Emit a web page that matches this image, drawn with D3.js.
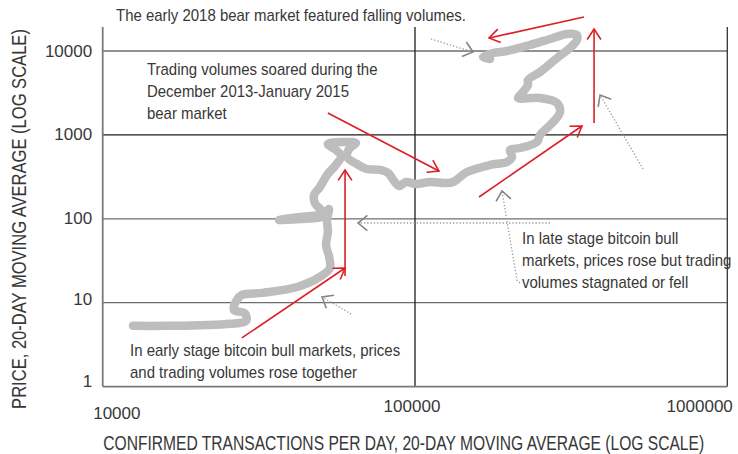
<!DOCTYPE html>
<html>
<head>
<meta charset="utf-8">
<script src="https://cdn.jsdelivr.net/npm/d3@7"></script>
<style>
	body { margin: 0; background: #fff; }
	text { font-family: 'Liberation Sans', Arial, sans-serif; fill: #383838; }
</style>
</head>
<body>
<div id="wrapper"></div>
<script>
// confirmed transactions per day (20-day MA) and price (20-day MA), in time order
const transactions = [12500, 15800, 20500, 25600, 28800, 28500, 26300, 26900, 27900, 32600,
	41900, 49600, 53400, 53000, 51900, 52600, 52300, 53000, 51100, 42800,
	36700, 42800, 50700, 47800, 47500, 49600, 52300, 55800, 58000, 55800,
	52600, 58800, 64700, 61500, 60600, 65200, 70200, 77300, 82000, 85700,
	88900, 93600, 100700, 111700, 124800, 132400, 146700, 173900, 197100, 204500,
	201500, 216900, 245900, 251300, 264700, 280800, 291300, 285000, 251300, 213700,
	220100, 230000, 230000, 251300, 285000, 313500, 330100, 330100, 306700, 270600,
	233400, 197100, 177700, 165100, 173900];
const prices = [5.3, 5.3, 5.4, 5.6, 6.1, 7.5, 8.2, 10.8, 12.4, 13.1,
	15.4, 20.3, 25.9, 36, 48.7, 69.6, 96.7, 131, 108, 99.4,
	96.7, 105, 117, 154, 192, 239, 333, 438, 560, 661,
	779, 823, 801, 679, 545, 450, 392, 382, 352, 282,
	246, 275, 260, 275, 267, 275, 361, 438, 475, 545,
	661, 698, 823, 997, 1208, 1505, 1875, 2400, 2754, 2754,
	3158, 3934, 4511, 5620, 8253, 10860, 13525, 15510, 15945, 13900,
	11790, 10000, 9467, 8483, 8028];

const yTicks = [1, 10, 100, 1000, 10000];
const yTickLabels = ['1', '10', '100', '1000', '10000'];
const xTicks = [10000, 100000, 1000000];
const xTickLabels = ['10000', '100000', '1000000'];
const yMax = 19300;

const xTitle = 'CONFIRMED TRANSACTIONS PER DAY, 20-DAY MOVING AVERAGE (LOG SCALE)';
const yTitle = 'PRICE, 20-DAY MOVING AVERAGE (LOG SCALE)';

// annotations, in data units: [tx, price]
const redArrows = [
	[[52600, 1824], [119300, 371]],
	[[347600, 25430], [172600, 14280]],
	[[374400, 1386], [374400, 18290]],
	[[160300, 182], [342500, 1277]],
	[[59700, 20.8], [59700, 382]],
	[[27900, 3.8], [59700, 25.9]],
];
const greyArrows = [
	[[112500, 13900], [153400, 9730]],
	[[537300, 392], [391300, 2990]],
	[[216900, 17.2], [212100, 18.6], [189900, 214.5]],
	[[270600, 89.1], [65700, 89.1]],
	[[62400, 7.33], [50400, 11.7]],
];
const notes = [
	{ at: [11030, 22970], lines: ['The early 2018 bear market featured falling volumes.'] },
	{ at: [13860, 5176], lines: ['Trading volumes soared during the', 'December 2013-January 2015', 'bear market'] },
	{ at: [220100, 50], lines: ['In late stage bitcoin bull', 'markets, prices rose but trading', 'volumes stagnated or fell'] },
	{ at: [12230, 2.32], lines: ['In early stage bitcoin bull markets, prices', 'and trading volumes rose together'] },
];

function drawChart() {
	const dimensions = {
		width: 738,
		height: 454,
		margin: { top: 51, right: 10.7, bottom: 67.4, left: 102.7 },
	};
	dimensions.boundedWidth = dimensions.width - dimensions.margin.left - dimensions.margin.right;
	dimensions.boundedHeight = dimensions.height - dimensions.margin.top - dimensions.margin.bottom;

	const wrapper = d3.select('#wrapper')
		.append('svg')
		.attr('width', dimensions.width)
		.attr('height', dimensions.height);

	const bounds = wrapper.append('g')
		.attr('transform', `translate(${dimensions.margin.left},${dimensions.margin.top})`);

	const xScale = d3.scaleLog()
		.domain([1e4, 1e6])
		.range([0, dimensions.boundedWidth]);
	const yScale = d3.scaleLog()
		.domain([1, 1e4])
		.range([dimensions.boundedHeight, 0]);

	// grid
	const grid = bounds.append('g');
	grid.selectAll('line.h')
		.data(yTicks.slice(1))
		.enter().append('line')
		.attr('x1', 0)
		.attr('x2', dimensions.boundedWidth)
		.attr('y1', d => yScale(d))
		.attr('y2', d => yScale(d))
		.attr('stroke', d => d === 1000 ? '#1e1e1e' : '#6e6e6e')
		.attr('stroke-width', 1.3);
	grid.append('line')
		.attr('x1', xScale(1e5)).attr('x2', xScale(1e5))
		.attr('y1', yScale(yMax)).attr('y2', yScale(1))
		.attr('stroke', '#1e1e1e').attr('stroke-width', 1.3);
	grid.append('line')
		.attr('x1', xScale(1e6)).attr('x2', xScale(1e6))
		.attr('y1', yScale(yMax)).attr('y2', yScale(1))
		.attr('stroke', '#333').attr('stroke-width', 1.3);
	grid.append('line')
		.attr('x1', 0).attr('x2', 0)
		.attr('y1', yScale(yMax)).attr('y2', yScale(1))
		.attr('stroke', '#7a7a7a').attr('stroke-width', 1.8);
	grid.append('line')
		.attr('x1', 0).attr('x2', dimensions.boundedWidth)
		.attr('y1', yScale(1)).attr('y2', yScale(1))
		.attr('stroke', '#7a7a7a').attr('stroke-width', 1.8);

	// tick labels
	const yOffsets = [0, 2, 5, 5, 6];
	bounds.selectAll('text.ytick')
		.data(yTicks)
		.enter().append('text')
		.attr('x', -10.5)
		.attr('y', (d, i) => yScale(d) + yOffsets[i])
		.attr('text-anchor', 'end')
		.style('font-size', '17px')
		.text((d, i) => yTickLabels[i]);

	const xAnchors = ['start', 'middle', 'end'];
	const xShift = [-9.5, -3, 5.5];
	const xBase = [32.5, 25.5, 25.5];
	bounds.selectAll('text.xtick')
		.data(xTicks)
		.enter().append('text')
		.attr('x', (d, i) => xScale(d) + xShift[i])
		.attr('y', (d, i) => dimensions.boundedHeight + xBase[i])
		.attr('text-anchor', (d, i) => xAnchors[i])
		.style('font-size', '17px')
		.text((d, i) => xTickLabels[i]);

	// condensed look: a text at (0,0) inside a group, squeezed horizontally
	const condensedText = (parent, x, y, str, size, opts = {}) => {
		const g = parent.append('g');
		const t = g.append('text')
			.attr('text-anchor', opts.anchor || 'start')
			.style('font-size', size + 'px')
			.text(str);
		const len = t.node().getComputedTextLength();
		const sx = opts.width ? opts.width / len : opts.factor;
		g.attr('transform', `translate(${x},${y})${opts.rotate ? ' rotate(' + opts.rotate + ')' : ''} scale(${sx},1)`);
		return g;
	};

	// axis titles
	condensedText(wrapper, dimensions.margin.left + 301, 450, xTitle, 19.5, { anchor: 'middle', width: 601 });
	condensedText(wrapper, 26, 219, yTitle, 19.5, { anchor: 'middle', width: 380, rotate: -90 });

	// bitcoin path
	const points = transactions.map((t, i) => [xScale(t), yScale(prices[i])]);
	const lineGenerator = d3.line().curve(d3.curveCatmullRom.alpha(0.5));
	bounds.append('path')
		.attr('d', lineGenerator(points))
		.attr('fill', 'none')
		.attr('stroke', '#bdbdbd')
		.attr('stroke-width', 8.5)
		.attr('stroke-linecap', 'round')
		.attr('stroke-linejoin', 'round');

	const toPx = p => [xScale(p[0]), yScale(p[1])];
	const chevron = (pts, len, spread) => {
		const [x2, y2] = pts[pts.length - 1];
		const [x1, y1] = pts[pts.length - 2];
		const back = Math.atan2(y1 - y2, x1 - x2);
		const a = [x2 + len * Math.cos(back - spread), y2 + len * Math.sin(back - spread)];
		const b = [x2 + len * Math.cos(back + spread), y2 + len * Math.sin(back + spread)];
		return `M${a}L${x2},${y2}L${b}`;
	};

	// red arrows
	const red = bounds.append('g');
	redArrows.forEach(arr => {
		const pts = arr.map(toPx);
		red.append('path')
			.attr('d', d3.line()(pts))
			.attr('fill', 'none')
			.attr('stroke', '#dc1f26')
			.attr('stroke-width', 1.6);
		red.append('path')
			.attr('d', chevron(pts, 12.5, 0.58))
			.attr('fill', 'none')
			.attr('stroke', '#dc1f26')
			.attr('stroke-width', 1.6);
	});

	// dotted grey pointers
	const grey = bounds.append('g');
	greyArrows.forEach(arr => {
		const pts = arr.map(toPx);
		grey.append('path')
			.attr('d', d3.line()(pts))
			.attr('fill', 'none')
			.attr('stroke', '#9a9a9a')
			.attr('stroke-width', 1.3)
			.attr('stroke-dasharray', '1.3 2');
		grey.append('path')
			.attr('d', chevron(pts, 12, 0.68))
			.attr('fill', 'none')
			.attr('stroke', '#858585')
			.attr('stroke-width', 1.6);
	});

	// notes
	notes.forEach(n => {
		const [nx, ny] = toPx(n.at);
		n.lines.forEach((l, i) => {
			condensedText(bounds, nx, ny + i * 22, l, 17.2, { factor: 0.87 });
		});
	});
}

drawChart();
</script>
</body>
</html>
